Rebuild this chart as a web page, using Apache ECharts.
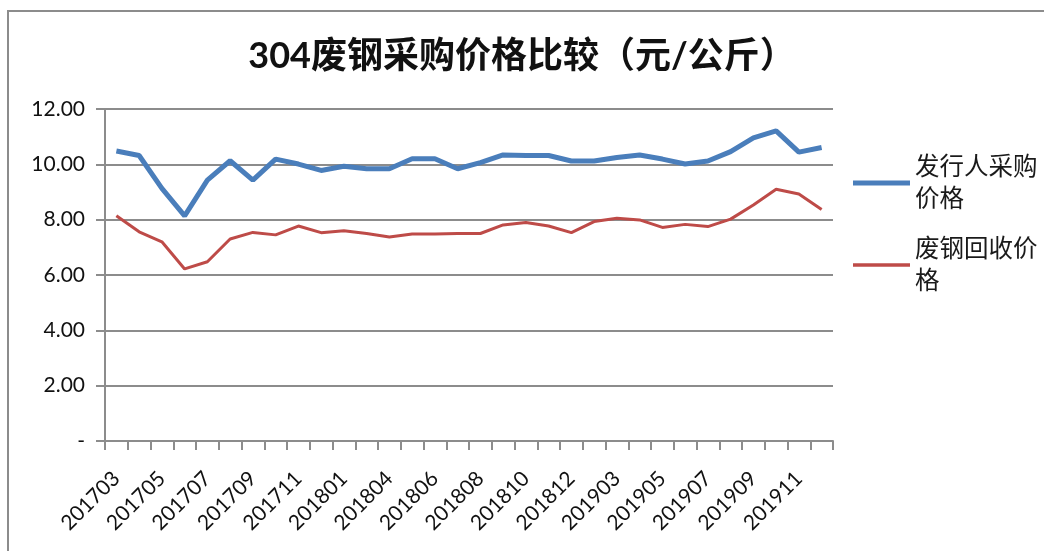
<!DOCTYPE html>
<html>
<head>
<meta charset="utf-8">
<script src="https://cdn.jsdelivr.net/npm/echarts@6/dist/echarts.min.js"></script>
<style>
html,body{margin:0;padding:0;background:#fff;}
#frame{position:absolute;left:7px;top:10px;width:1100px;height:600px;border-left:2px solid #8c8c8c;border-top:2px solid #8c8c8c;}
#chart{position:absolute;left:0;top:0;width:1044px;height:551px;}
</style>
</head>
<body>
<div id="frame"></div>
<div id="chart"></div>
<script>
var categories = ['201703','201704','201705','201706','201707','201708','201709','201710','201711','201712',
  '201801','201803','201804','201805','201806','201807','201808','201809','201810','201811','201812',
  '201901','201903','201904','201905','201906','201907','201908','201909','201910','201911','201912'];
var issuerPrice = [10.48,10.32,9.13,8.14,9.43,10.13,9.43,10.19,10.01,9.78,9.93,9.84,9.84,10.20,10.20,9.84,
  10.06,10.34,10.32,10.32,10.12,10.12,10.25,10.34,10.19,10.01,10.12,10.46,10.96,11.21,10.44,10.61];
var scrapPrice = [8.14,7.56,7.20,6.22,6.48,7.30,7.54,7.45,7.77,7.53,7.60,7.50,7.37,7.48,7.48,7.50,
  7.50,7.81,7.90,7.77,7.53,7.93,8.05,7.99,7.72,7.83,7.75,8.02,8.53,9.10,8.93,8.37];
var seriesNames = ['发行人采购价格','废钢回收价格'];
var legendLabels = ['发行人采购\n价格','废钢回收价\n格'];
var titleText = '304废钢采购价格比较（元/公斤）';

var FONT = "Lato, 'Noto Sans CJK SC', sans-serif";
var chart = echarts.init(document.getElementById('chart'), null, {renderer:'canvas'});
function legendFor(i, top, h){
  return {
    orient:'vertical', left:853, top: top, padding:0,
    data:[{name:seriesNames[i], icon:'rect'}],
    itemWidth:57, itemHeight:h, itemGap:0,
    formatter:function(){ return legendLabels[i]; },
    textStyle:{fontFamily:FONT, fontSize:24.5, color:'#1a1a1a', lineHeight:32, padding:[32,0,0,0]}
  };
}
chart.setOption({
  backgroundColor:'transparent',
  animation:false,
  title:{text:titleText, left:'center', top:33,
    textStyle:{fontFamily:FONT, fontSize:36, fontWeight:'bold', color:'#111'}},
  legend:[legendFor(0, 135, 5), legendFor(1, 217, 3.5)],
  grid:{left:105, top:109, width:728, height:332, containLabel:false},
  xAxis:{type:'category', data:categories, boundaryGap:true,
    axisLine:{lineStyle:{color:'#8c8c8c', width:2}},
    axisTick:{show:true, interval:0, length:9, lineStyle:{color:'#8c8c8c', width:2}},
    axisLabel:{interval:1, rotate:45, margin:34, fontFamily:FONT, fontSize:21, color:'#111'}
  },
  yAxis:{type:'value', min:0, max:12, interval:2,
    axisLine:{show:true, lineStyle:{color:'#8c8c8c', width:2}},
    axisTick:{show:true, length:9, lineStyle:{color:'#8c8c8c', width:2}},
    splitLine:{show:true, lineStyle:{color:'#8c8c8c', width:2}},
    axisLabel:{margin:20, fontFamily:FONT, fontSize:21, color:'#111',
      formatter:function(v){ return v===0 ? '-' : v.toFixed(2); }}
  },
  series:[
    {name:seriesNames[0], type:'line', data:issuerPrice, showSymbol:false, symbol:'none',
     lineStyle:{color:'#4a7ebb', width:5}, itemStyle:{color:'#4a7ebb'}},
    {name:seriesNames[1], type:'line', data:scrapPrice, showSymbol:false, symbol:'none',
     lineStyle:{color:'#be4b48', width:3}, itemStyle:{color:'#be4b48'}}
  ]
});
</script>
</body>
</html>
